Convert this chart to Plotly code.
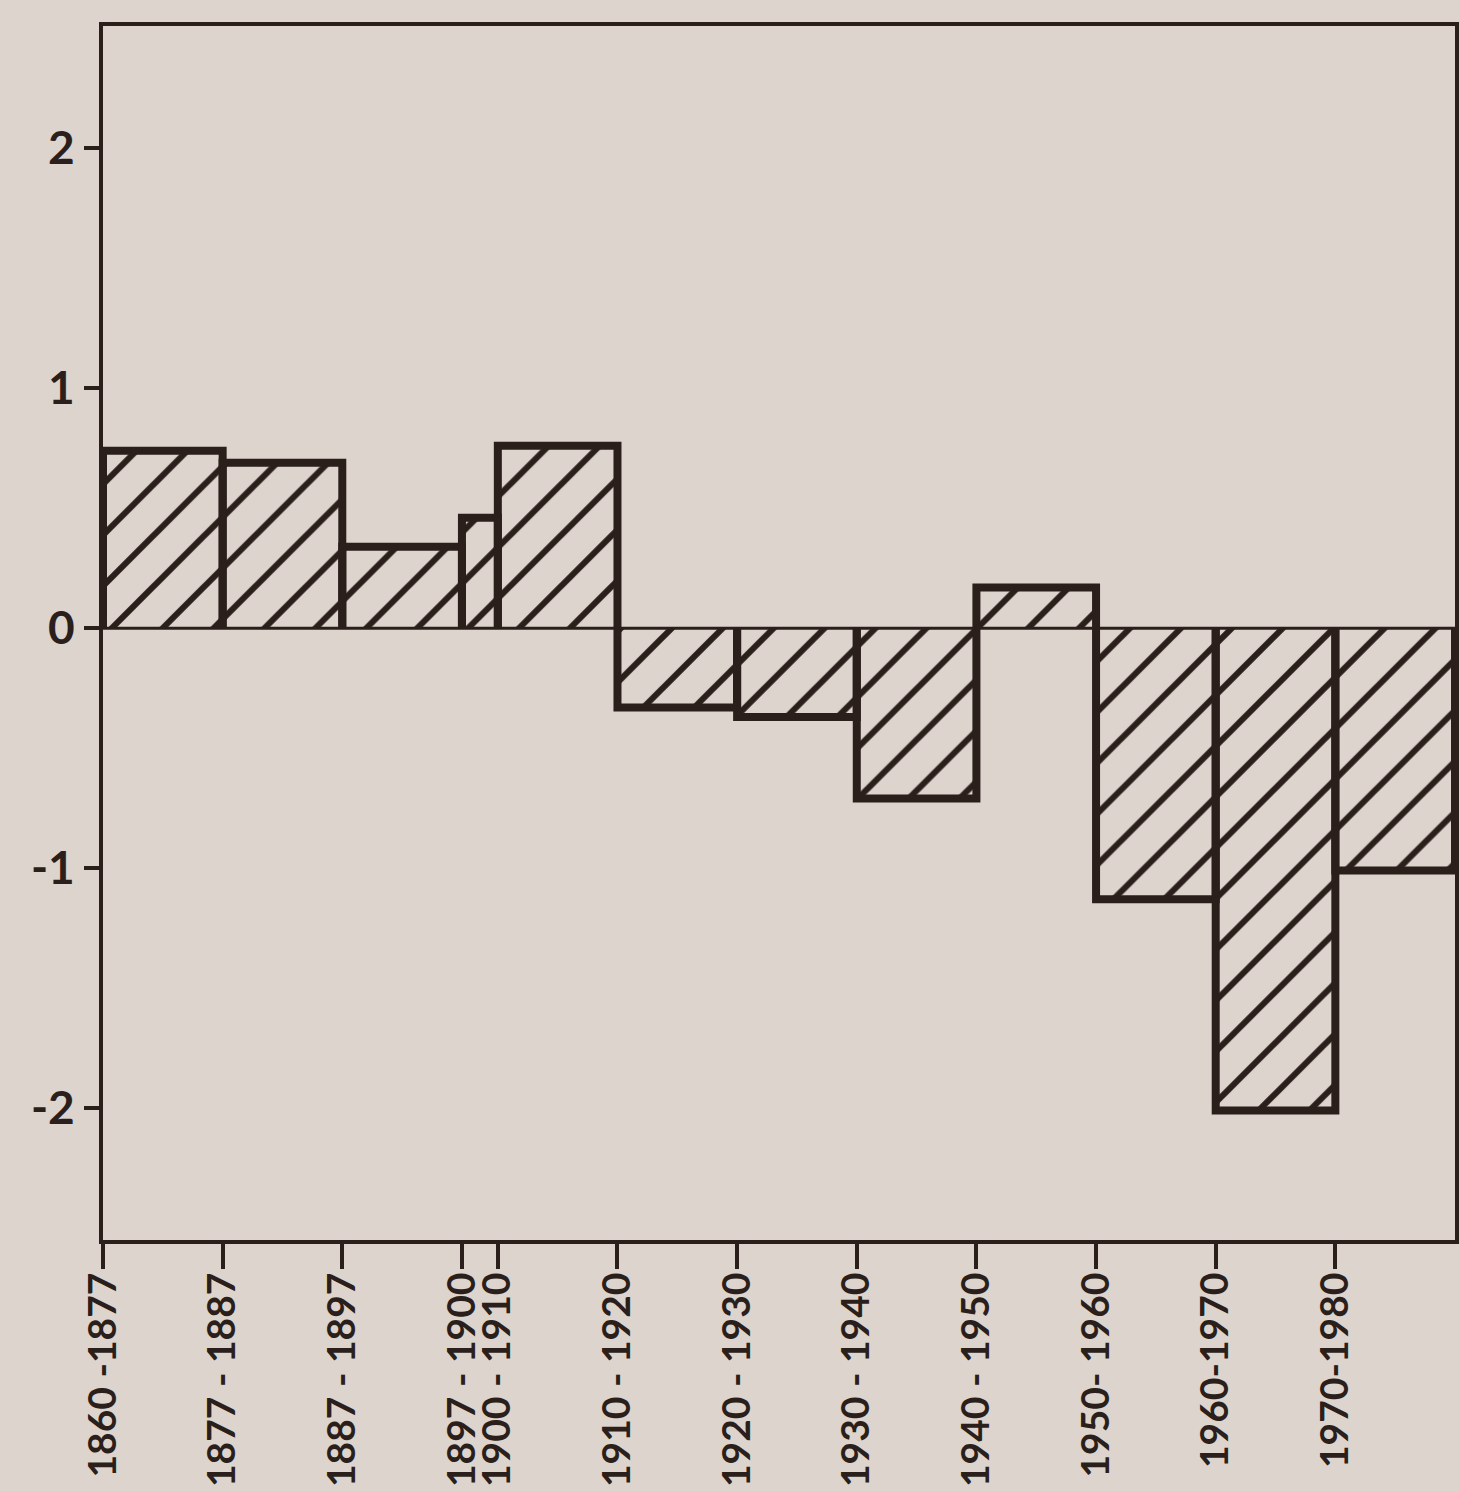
import plotly.graph_objects as go

# ---- data ----
periods = ["1860 -1877", "1877 - 1887", "1887 - 1897", "1897 - 1900", "1900 - 1910",
           "1910 - 1920", "1920 - 1930", "1930 - 1940", "1940 - 1950", "1950- 1960",
           "1960-1970", "1970-1980"]
starts = [1860, 1877, 1887, 1897, 1900, 1910, 1920, 1930, 1940, 1950, 1960, 1970]
ends = [1877, 1887, 1897, 1900, 1910, 1920, 1930, 1940, 1950, 1960, 1970, 1980]
values = [0.74, 0.69, 0.34, 0.46, 0.76, -0.33, -0.37, -0.71, 0.17, -1.13, -2.01, -1.01]
y_ticks = [2, 1, 0, -1, -2]
y_tick_text = ["2", "1", "0", "-1", "-2"]

# ---- style ----
INK = "#2a1f1b"
PAPER = "#dcd4cd"
FONT = "Lato"

# bar widths: one unit per decade-class, shorter classes proportionally narrower
widths = [min(e - s, 10) / 10 for s, e in zip(starts, ends)]
left_edges = []
acc = 0.0
for w in widths:
    left_edges.append(acc)
    acc += w
total = acc
centers = [l + w / 2 for l, w in zip(left_edges, widths)]

fig = go.Figure()

fig.add_trace(go.Bar(
    x=centers, y=values, width=widths,
    marker=dict(
        color=PAPER,
        line=dict(width=0),
        pattern=dict(shape="/", size=36, solidity=0.17, fgcolor=INK,
                     bgcolor=PAPER, fillmode="replace"),
    ),
    hoverinfo="skip", showlegend=False,
))

# thick outlines (sides + outer edge) built from the same data
ox, oy = [], []
for l, w, v in zip(left_edges, widths, values):
    ox += [l, l, l + w, l + w, None]
    oy += [0, v, v, 0, None]
fig.add_trace(go.Scatter(
    x=ox, y=oy, mode="lines",
    line=dict(color=INK, width=8),
    hoverinfo="skip", showlegend=False,
))

# zero line
fig.add_shape(type="line", xref="paper", x0=0, x1=1, yref="y", y0=0, y1=0,
              line=dict(color=INK, width=3), layer="above")

fig.update_layout(
    width=1459, height=1491,
    margin=dict(l=103, r=4, t=26, b=251, autoexpand=False),
    paper_bgcolor=PAPER, plot_bgcolor=PAPER,
    bargap=0,
    font=dict(family=FONT, color=INK, size=44),
)

fig.update_xaxes(
    range=[0, total],
    tickmode="array", tickvals=left_edges, ticktext=periods,
    tickangle=-90, automargin=False,
    ticks="outside", ticklen=25, tickwidth=4, tickcolor=INK,
    ticklabelstandoff=-12,
    showline=True, linewidth=4, linecolor=INK, mirror=True,
    showgrid=False, zeroline=False,
    tickfont=dict(size=39, family=FONT, color=INK, weight="bold"),
)
fig.update_yaxes(
    range=[-2.55, 2.51], automargin=False,
    tickmode="array", tickvals=y_ticks, ticktext=y_tick_text,
    ticks="outside", ticklen=15, tickwidth=4, tickcolor=INK,
    showline=True, linewidth=4, linecolor=INK, mirror=True,
    showgrid=False, zeroline=False,
    tickfont=dict(size=46, family=FONT, color=INK, weight="bold"),
)

fig.write_html(
    "out.html",
    config={"displayModeBar": False},
    post_script="document.body.style.margin='0';document.body.style.background='%s';" % PAPER,
)
